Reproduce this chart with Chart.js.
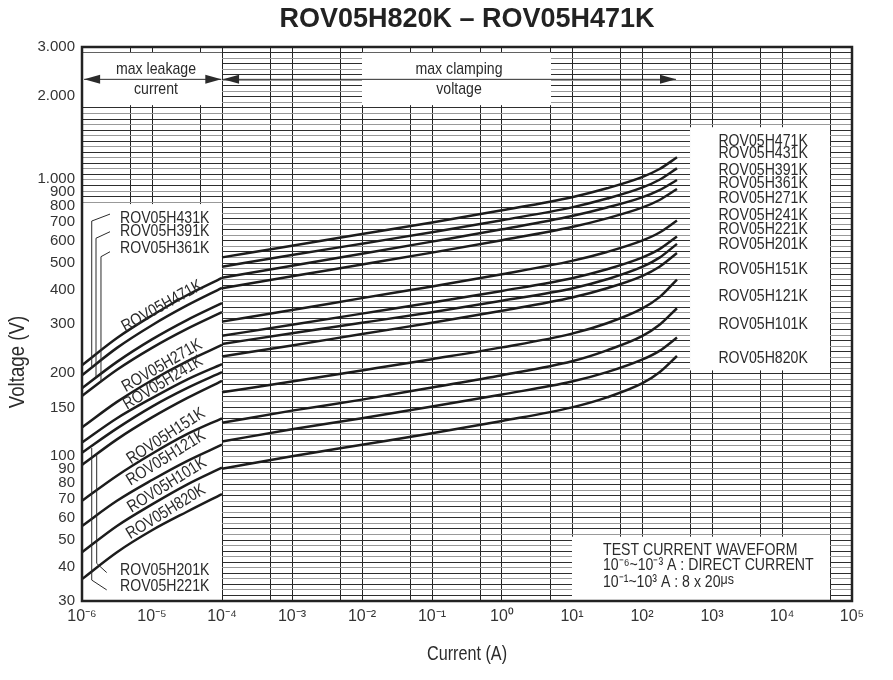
<!DOCTYPE html>
<html>
<head>
<meta charset="utf-8">
<title>ROV05H820K – ROV05H471K</title>
<script src="https://cdn.jsdelivr.net/npm/chart.js@4.4.1/dist/chart.umd.min.js"></script>
<style>
  html, body { margin: 0; padding: 0; background: #fff; }
  #wrap { width: 893px; height: 680px; position: relative; }
</style>
</head>
<body>
<div id="wrap"><canvas id="myChart"></canvas></div>
<script>
const SANS = "'Liberation Sans', Arial, sans-serif";
const INK = '#2b2b2b';
const SQUEEZE = 0.83; // the datasheet uses a condensed face

// varistor types, top curve first
const models = ['ROV05H471K', 'ROV05H431K', 'ROV05H391K', 'ROV05H361K', 'ROV05H271K', 'ROV05H241K',
                'ROV05H221K', 'ROV05H201K', 'ROV05H151K', 'ROV05H121K', 'ROV05H101K', 'ROV05H820K'];

// max leakage current part (A -> V)
const leakCurrent = [1e-6, 3.16e-6, 1e-5, 3.16e-5, 1e-4];
const leak471 = [213, 267, 322, 381, 440];
const leak431 = [196, 246, 297, 350, 405];
const leak391 = [176, 219, 264, 310, 357];
const leak361 = [165, 205, 246, 288, 331];
const leak271 = [127, 157, 188, 220, 252];
const leak241 = [112, 137, 162, 189, 215];
const leak221 = [103, 126, 151, 176, 201];
const leak201 = [93, 115, 138, 162, 187];
const leak151 = [69, 85, 102, 120, 137];
const leak121 = [56, 69, 82, 96, 110];
const leak101 = [45, 56, 67, 79, 91];
const leak820 = [36, 45, 54, 63, 73];

// max clamping voltage part (A -> V)
const clampCurrent = [1e-4, 1e-3, 1e-2, 0.1, 1, 10, 31.6, 100, 178, 316];
const clamp471 = [522, 575, 634, 698, 772, 861, 927, 1017, 1088, 1199];
const clamp431 = [483, 532, 585, 643, 711, 791, 851, 932, 995, 1094];
const clamp391 = [441, 487, 538, 595, 659, 736, 790, 860, 913, 993];
const clamp361 = [404, 446, 492, 543, 602, 672, 722, 789, 841, 921];
const clamp271 = [306, 337, 372, 410, 454, 507, 546, 600, 642, 709];
const clamp241 = [272, 298, 327, 359, 395, 439, 473, 521, 559, 621];
const clamp221 = [254, 278, 303, 331, 364, 403, 435, 482, 521, 584];
const clamp201 = [229, 251, 276, 303, 335, 374, 404, 447, 483, 541];
const clamp151 = [170, 186, 204, 224, 247, 277, 302, 341, 375, 434];
const clamp121 = [132, 146, 160, 177, 196, 220, 241, 271, 298, 342];
const clamp101 = [113, 125, 137, 151, 167, 186, 201, 223, 240, 268];
const clamp820 = [90, 100, 110, 121, 134, 150, 163, 183, 201, 230];

const leakVoltages = [leak471, leak431, leak391, leak361, leak271, leak241,
                      leak221, leak201, leak151, leak121, leak101, leak820];
const clampVoltages = [clamp471, clamp431, clamp391, clamp361, clamp271, clamp241,
                       clamp221, clamp201, clamp151, clamp121, clamp101, clamp820];

// axis ticks
const voltageTicks = [3000, 2000, 1000, 900, 800, 700, 600, 500, 400, 300, 200, 150,
                      100, 90, 80, 70, 60, 50, 40, 30];
const currentDecades = [-6, -5, -4, -3, -2, -1, 0, 1, 2, 3, 4, 5];

// label positions: [log10 current, voltage]
const rightLabelV = [1365, 1240, 1073, 966, 853, 742, 659, 582, 474, 377, 298, 226];
const curveLabels = [
  ['ROV05H471K', -4.857, 348, -29], ['ROV05H271K', -4.857, 212, -30],
  ['ROV05H241K', -4.843, 184, -31], ['ROV05H151K', -4.8, 118, -33],
  ['ROV05H121K', -4.8, 98.5, -32], ['ROV05H101K', -4.786, 78.7, -32],
  ['ROV05H820K', -4.8, 62.9, -31.5]
];
const leftLabels = [['ROV05H431K', 722], ['ROV05H391K', 646], ['ROV05H361K', 563],
                    ['ROV05H201K', 38.8], ['ROV05H221K', 34.0]];
const leaders = [
  [[-5.6, 748], [-5.861, 706], [-5.861, 209]],
  [[-5.6, 646], [-5.8, 612], [-5.8, 192]],
  [[-5.6, 547], [-5.729, 525], [-5.729, 185]],
  [[-5.647, 38.0], [-5.79, 41.0], [-5.79, 101.8]],
  [[-5.647, 32.9], [-5.861, 35.7], [-5.861, 107]]
];
const whiteBoxes = [[-6, -4, 2860, 1850], [-2, 0.7, 2860, 1850], [-6, -4, 813, 30],
                    [2.686, 4.686, 1540, 204], [1.0, 4.686, 51.2, 30]];
const arrowV = 2293;

const sup = {'-': '⁻', '0': '⁰', '1': '¹', '2': '²', '3': '³', '4': '⁴', '5': '⁵', '6': '⁶'};
const power = e => '10' + String(e).split('').map(c => sup[c]).join('');

let datasets = [];
models.forEach((m, i) => {
  datasets.push({ label: m + ' leakage', data: leakCurrent.map((c, j) => ({ x: c, y: leakVoltages[i][j] })) });
  datasets.push({ label: m + ' clamping', data: clampCurrent.map((c, j) => ({ x: c, y: clampVoltages[i][j] })) });
});

// condensed text: squeeze a normal face horizontally
function narrowText(ctx, text, x, y, size, align, angle) {
  ctx.save();
  ctx.translate(x, y);
  if (angle) ctx.rotate(angle * Math.PI / 180);
  ctx.scale(SQUEEZE, 1);
  ctx.font = size + 'px ' + SANS;
  ctx.textAlign = align || 'center';
  ctx.textBaseline = 'middle';
  ctx.fillText(text, 0, 0);
  const w = ctx.measureText(text).width * SQUEEZE;
  ctx.restore();
  return w;
}

const overlay = {
  id: 'overlay',
  beforeDatasetsDraw(chart) {
    const ctx = chart.ctx;
    const X = e => chart.scales.x.getPixelForValue(Math.pow(10, e));
    const Y = v => chart.scales.y.getPixelForValue(v);
    ctx.save();
    ctx.fillStyle = '#fff';
    whiteBoxes.forEach(b => {
      ctx.fillRect(X(b[0]), Y(b[2]), X(b[1]) - X(b[0]), Y(b[3]) - Y(b[2]));
    });
    ctx.restore();
  },
  afterDatasetsDraw(chart) {
    const ctx = chart.ctx;
    const X = e => chart.scales.x.getPixelForValue(Math.pow(10, e));
    const Y = v => chart.scales.y.getPixelForValue(v);
    ctx.save();
    ctx.fillStyle = INK;
    ctx.strokeStyle = INK;

    // arrows
    const ay = Y(arrowV);
    const head = (tip, dir) => {
      ctx.beginPath();
      ctx.moveTo(tip, ay);
      ctx.lineTo(tip + dir * 16, ay - 4.5);
      ctx.lineTo(tip + dir * 16, ay + 4.5);
      ctx.closePath();
      ctx.fill();
    };
    ctx.lineWidth = 1;
    [[-5.97, -4.01], [-3.985, 2.486]].forEach(a => {
      ctx.beginPath();
      ctx.moveTo(X(a[0]), ay);
      ctx.lineTo(X(a[1]), ay);
      ctx.stroke();
      head(X(a[0]), 1);
      head(X(a[1]), -1);
    });

    narrowText(ctx, 'max leakage', X(-4.943), ay - 10, 17);
    narrowText(ctx, 'current', X(-4.943), ay + 10, 17);
    narrowText(ctx, 'max clamping', X(-0.614), ay - 10, 17);
    narrowText(ctx, 'voltage', X(-0.614), ay + 10, 17);

    // right legend box
    models.forEach((m, i) => narrowText(ctx, m, X(3.73), Y(rightLabelV[i]), 17));

    // labels on curves
    curveLabels.forEach(l => narrowText(ctx, l[0], X(l[1]), Y(l[2]), 17, 'center', l[3]));
    leftLabels.forEach(l => narrowText(ctx, l[0], X(-5.457), Y(l[1]), 17, 'left'));

    ctx.lineWidth = 1;
    leaders.forEach(p => {
      ctx.beginPath();
      p.forEach((q, k) => k ? ctx.lineTo(X(q[0]), Y(q[1])) : ctx.moveTo(X(q[0]), Y(q[1])));
      ctx.stroke();
    });

    // test current note
    const tx = X(1.443);
    narrowText(ctx, 'TEST CURRENT WAVEFORM', tx, Y(45.8), 17, 'left');
    narrowText(ctx, '10⁻⁶~10⁻³ A : DIRECT CURRENT', tx, Y(40.2), 17, 'left');
    const w3 = narrowText(ctx, '10⁻¹~10³ A : 8 x 20', tx, Y(34.9), 17, 'left');
    narrowText(ctx, 'μs', tx + w3, Y(34.9) - 3, 15, 'left');
    ctx.restore();
  },
  afterDraw(chart) {
    const ctx = chart.ctx;
    const a = chart.chartArea;
    ctx.save();
    ctx.strokeStyle = '#222';
    ctx.lineWidth = 2.5;
    ctx.strokeRect(a.left, a.top, a.right - a.left, a.bottom - a.top);

    ctx.fillStyle = '#222';
    ctx.textAlign = 'center';
    ctx.textBaseline = 'middle';
    ctx.font = 'bold 27px ' + SANS;
    ctx.fillText('ROV05H820K – ROV05H471K', (a.left + a.right) / 2, 20);

    ctx.fillStyle = INK;
    narrowText(ctx, 'Current (A)', (a.left + a.right) / 2, 655, 19.5);
    narrowText(ctx, 'Voltage (V)', 18, (a.top + a.bottom) / 2 + 38, 22.5, 'center', -90);
    ctx.restore();
  }
};

let ctx = document.getElementById('myChart').getContext('2d');
let myChart = new Chart(ctx, {
  type: 'line',
  data: { datasets: datasets },
  options: {
    responsive: true,
    maintainAspectRatio: false,
    animation: false,
    layout: { padding: { top: 47, right: 41, left: 0, bottom: 0 } },
    elements: {
      line: { borderColor: '#1c1c1c', borderWidth: 2.5, cubicInterpolationMode: 'monotone', fill: false },
      point: { radius: 0 }
    },
    plugins: {
      legend: { display: false },
      tooltip: { enabled: false },
      title: { display: false }
    },
    scales: {
      x: {
        type: 'logarithmic',
        min: 1e-6,
        max: 1e5,
        afterBuildTicks: (scale) => {
          let t = [];
          currentDecades.forEach(e => {
            t.push({ value: Math.pow(10, e) });
            if (e < 5) t.push({ value: 5 * Math.pow(10, e) });
          });
          scale.ticks = t;
        },
        afterFit: (scale) => { scale.height = 79; },
        ticks: {
          autoSkip: false,
          maxRotation: 0,
          padding: 6,
          color: '#333',
          font: { family: SANS, size: 16 },
          callback: (value) => {
            const e = Math.log10(value);
            return Math.abs(e - Math.round(e)) < 1e-6 ? power(Math.round(e)) : '';
          }
        },
        grid: { color: '#222', lineWidth: 1, drawTicks: false },
        border: { display: false }
      },
      y: {
        type: 'logarithmic',
        min: 30,
        max: 3000,
        afterBuildTicks: (scale) => {
          let t = voltageTicks.map(v => ({ value: v }));
          for (let k = 1; k < 100; k++) t.push({ value: 30 * Math.pow(10, k / 50) });
          scale.ticks = t;
        },
        afterFit: (scale) => { scale.width = 82; },
        ticks: {
          autoSkip: false,
          padding: 7,
          color: '#333',
          font: { family: SANS, size: 15 },
          callback: (value, index) => {
            if (index >= voltageTicks.length) return '';
            return value >= 1000 ? (value / 1000) + '.000' : String(value);
          }
        },
        grid: {
          lineWidth: 1,
          drawTicks: false,
          color: (c) => c.index < voltageTicks.length ? 'rgba(0,0,0,0)' : (c.index % 2 ? '#999' : '#2e2e2e')
        },
        border: { display: false }
      }
    }
  },
  plugins: [overlay]
});
</script>
</body>
</html>
